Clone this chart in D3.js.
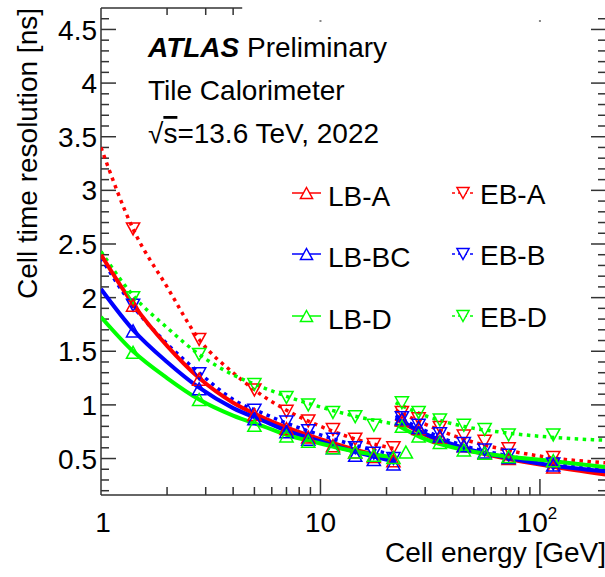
<!DOCTYPE html>
<html><head><meta charset="utf-8">
<script src="https://cdn.jsdelivr.net/npm/d3@7/dist/d3.min.js"></script>
<style>
html,body{margin:0;padding:0;background:#fff;}
svg{display:block;font-family:"Liberation Sans",Arial,Helvetica,sans-serif;}
</style></head>
<body><svg id="c" width="605" height="577"></svg>
<script>
// ---- data ----
const seriesNames = ["LB-A", "LB-BC", "LB-D", "EB-A", "EB-B", "EB-D"];
const seriesColors = ["#ff0000", "#0000ff", "#00ff00", "#ff0000", "#0000ff", "#00ff00"];
const seriesDotted = [false, false, false, true, true, true];
const seriesUp = [true, true, true, false, false, false];

// fit curves (low energy range, high energy range)
const fitE1 = [1, 1.4, 2, 2.8, 4, 5.5, 7, 10, 14, 22];
const fitE2 = [22, 30, 45, 70, 110, 200];
const fitLBA1  = [2.40, 1.94, 1.55, 1.25, 1.02, 0.88, 0.79, 0.68, 0.59, 0.49];
const fitLBBC1 = [2.08, 1.70, 1.40, 1.16, 0.97, 0.85, 0.76, 0.66, 0.57, 0.47];
const fitLBD1  = [1.82, 1.50, 1.25, 1.05, 0.90, 0.80, 0.72, 0.64, 0.57, 0.51];
const fitEBA1  = [3.40, 2.64, 2.10, 1.61, 1.30, 1.08, 0.95, 0.80, 0.69, 0.59];
const fitEBB1  = [2.37, 1.92, 1.57, 1.30, 1.05, 0.92, 0.83, 0.72, 0.63, 0.53];
const fitEBD1  = [2.43, 2.02, 1.72, 1.47, 1.28, 1.16, 1.08, 0.98, 0.90, 0.82];
const fitLBA2  = [0.87, 0.72, 0.59, 0.50, 0.43, 0.35];
const fitLBBC2 = [0.88, 0.73, 0.60, 0.51, 0.44, 0.38];
const fitLBD2  = [0.82, 0.68, 0.58, 0.52, 0.48, 0.42];
const fitEBA2  = [0.95, 0.82, 0.68, 0.58, 0.51, 0.46];
const fitEBB2  = [0.90, 0.76, 0.62, 0.53, 0.46, 0.41];
const fitEBD2  = [1.02, 0.90, 0.80, 0.74, 0.70, 0.67];

// measured points
const ptE1 = [1.4, 2.8, 5, 7, 8.8, 11.4, 14.4, 17.5, 21.5, 24.5];
const ptE2 = [23.5, 28, 35, 45, 56, 72, 115];
const ptLBA1  = [1.93, 1.24, 0.91, 0.78, 0.70, 0.62, 0.56, 0.52, 0.48, null];
const ptLBBC1 = [1.69, 1.15, 0.87, 0.75, 0.68, 0.60, 0.53, 0.49, 0.45, null];
const ptLBD1  = [1.49, 1.05, 0.81, 0.71, 0.66, 0.60, 0.56, 0.53, 0.51, 0.56];
const ptEBA1  = [2.64, 1.61, 1.14, 0.94, 0.85, 0.77, 0.68, 0.63, 0.60, null];
const ptEBB1  = [1.93, 1.29, 0.95, 0.84, 0.76, 0.68, 0.60, 0.55, 0.50, null];
const ptEBD1  = [2.00, 1.47, 1.19, 1.07, 1.00, 0.93, 0.89, 0.81, null, null];
const ptLBA2  = [0.86, 0.78, 0.70, 0.62, 0.55, 0.50, 0.42];
const ptLBBC2 = [0.87, 0.79, 0.71, 0.62, 0.56, 0.51, 0.44];
const ptLBD2  = [0.80, 0.71, 0.65, 0.58, 0.55, 0.52, 0.48];
const ptEBA2  = [0.93, 0.87, 0.79, 0.71, 0.66, 0.59, 0.51];
const ptEBB2  = [0.88, 0.81, 0.73, 0.64, 0.58, 0.53, 0.45];
const ptEBD2  = [1.02, 0.93, 0.86, 0.81, 0.77, 0.72, 0.72];

const yMajorTicks = [0.5, 1, 1.5, 2, 2.5, 3, 3.5, 4, 4.5];
const yTickLabels = ["0.5", "1", "1.5", "2", "2.5", "3", "3.5", "4", "4.5"];
const xMajorTicks = [1, 10, 100];

const fits1 = [fitLBA1, fitLBBC1, fitLBD1, fitEBA1, fitEBB1, fitEBD1];
const fits2 = [fitLBA2, fitLBBC2, fitLBD2, fitEBA2, fitEBB2, fitEBD2];
const pts1 = [ptLBA1, ptLBBC1, ptLBD1, ptEBA1, ptEBB1, ptEBD1];
const pts2 = [ptLBA2, ptLBBC2, ptLBD2, ptEBA2, ptEBB2, ptEBD2];

// ---- layout ----
const L = 101, R = 606, T = 8, B = 495;
const svg = d3.select("#c");
const x = d3.scaleLog().domain([1, 200]).range([L, R]);
const y = d3.scaleLinear().domain([0.16, 4.7]).range([B, T]);
const axisCol = "#333";
const FONT = 28;

svg.append("defs").append("clipPath").attr("id", "clip")
  .append("rect").attr("x", L).attr("y", T).attr("width", R - L).attr("height", B - T);

// frame
svg.append("line").attr("x1", L).attr("x2", L).attr("y1", T).attr("y2", B).attr("stroke", axisCol).attr("stroke-width", 1.5);
svg.append("line").attr("x1", L).attr("x2", R).attr("y1", B).attr("y2", B).attr("stroke", axisCol).attr("stroke-width", 1.5);
svg.append("line").attr("x1", L).attr("x2", x(4.4)).attr("y1", T).attr("y2", T).attr("stroke", axisCol).attr("stroke-width", 1.5);

// y ticks (left and right)
const yMinor = d3.range(2, 47).map(d => d / 10);
const gy = svg.append("g");
yMinor.forEach(v => {
  const major = Math.abs(v * 2 - Math.round(v * 2)) < 1e-6;
  const len = major ? 15 : 8;
  gy.append("line").attr("x1", L).attr("x2", L + len).attr("y1", y(v)).attr("y2", y(v)).attr("stroke", axisCol).attr("stroke-width", 1.5);
  gy.append("line").attr("x1", R - len).attr("x2", R).attr("y1", y(v)).attr("y2", y(v)).attr("stroke", axisCol).attr("stroke-width", 1.5);
});
yMajorTicks.forEach((v, i) => {
  gy.append("text").attr("x", 97).attr("y", y(v)).attr("dy", "0.36em")
    .attr("text-anchor", "end").attr("font-size", FONT).text(yTickLabels[i]);
});

// x ticks
const xMinor = [];
[1, 10, 100].forEach(dec => { for (let k = 1; k <= 9; k++) { const v = dec * k; if (v <= 200 && v > 1) xMinor.push(v); } });
const gx = svg.append("g");
xMinor.forEach(v => {
  const major = xMajorTicks.includes(v);
  const len = major ? 16 : 8;
  gx.append("line").attr("x1", x(v)).attr("x2", x(v)).attr("y1", B).attr("y2", B - len).attr("stroke", axisCol).attr("stroke-width", 1.5);
});
[2, 3, 4].forEach(v => {
  gx.append("line").attr("x1", x(v)).attr("x2", x(v)).attr("y1", T).attr("y2", T + 7).attr("stroke", axisCol).attr("stroke-width", 1.5);
});
[10, 100].forEach(v => {
  gx.append("rect").attr("x", x(v) - 1).attr("y", 20).attr("width", 2).attr("height", 2).attr("fill", "#888");
});
gx.append("text").attr("x", x(1) + 2).attr("y", 532).attr("text-anchor", "middle").attr("font-size", FONT).text("1");
gx.append("text").attr("x", x(10)).attr("y", 532).attr("text-anchor", "middle").attr("font-size", FONT).text("10");
const t100 = gx.append("text").attr("x", x(100) - 3).attr("y", 532).attr("text-anchor", "middle").attr("font-size", FONT);
t100.append("tspan").text("10");
t100.append("tspan").attr("font-size", 17).attr("dy", -13).text("2");

// axis titles
svg.append("text").attr("x", 606).attr("y", 562).attr("text-anchor", "end").attr("font-size", FONT).text("Cell energy [GeV]");
svg.append("text").attr("transform", "translate(37,8) rotate(-90)").attr("text-anchor", "end").attr("font-size", FONT).text("Cell time resolution [ns]");

// ---- data drawing ----
const plot = svg.append("g").attr("clip-path", "url(#clip)");
const line = d3.line().x(d => x(d[0])).y(d => y(d[1])).curve(d3.curveMonotoneX);

function styleLine(sel, i, legend) {
  sel.attr("fill", "none").attr("stroke", seriesColors[i])
    .attr("stroke-width", legend ? 1.5 : (seriesDotted[i] ? 3.5 : 4));
  if (seriesDotted[i]) sel.attr("stroke-dasharray", legend ? "3 3" : "3.5 4.5");
}
function triPath(up, s) {
  const w = s * 0.55, h = s * 0.5;
  return up ? `M0,${-h}L${w},${h}L${-w},${h}Z` : `M0,${h}L${w},${-h}L${-w},${-h}Z`;
}

const order = [3, 4, 5, 0, 1, 2];
order.forEach(i => {
  plot.append("path").datum(fitE1.map((e, k) => [e, fits1[i][k]])).attr("d", line).call(styleLine, i, false);
  plot.append("path").datum(fitE2.map((e, k) => [e, fits2[i][k]])).attr("d", line).call(styleLine, i, false);
});
order.forEach(i => {
  const pts = ptE1.map((e, k) => [e, pts1[i][k]]).concat(ptE2.map((e, k) => [e, pts2[i][k]])).filter(d => d[1] != null);
  plot.selectAll(null).data(pts).enter().append("path")
    .attr("transform", d => `translate(${x(d[0])},${y(d[1])})`)
    .attr("d", triPath(seriesUp[i], 12))
    .attr("fill", "none").attr("stroke", seriesColors[i]).attr("stroke-width", 1.5);
});

// ---- legend ----
const legRows = [193, 254, 316];
seriesNames.forEach((name, i) => {
  const col = i < 3 ? 0 : 1, row = i % 3;
  const yy = legRows[row];
  const x0 = col === 0 ? 292 : 452, x1 = col === 0 ? 321 : 474;
  const cx = (x0 + x1) / 2;
  const g = svg.append("g");
  g.append("line").attr("x1", x0).attr("x2", x1).attr("y1", yy).attr("y2", yy).call(styleLine, i, true);
  g.append("path").attr("transform", `translate(${cx},${yy})`).attr("d", triPath(seriesUp[i], 11))
    .attr("fill", "#fff").attr("stroke", seriesColors[i]).attr("stroke-width", 1.5);
  g.append("text").attr("x", col === 0 ? 328 : 480).attr("y", yy + (col === 0 ? 13 : 11))
    .attr("font-size", FONT).text(name);
});

// ---- labels ----
const atl = svg.append("text").attr("x", 148).attr("y", 57).attr("font-size", FONT);
atl.append("tspan").attr("font-weight", "bold").attr("font-style", "italic").text("ATLAS");
atl.append("tspan").text(" Preliminary");
svg.append("text").attr("x", 148).attr("y", 100).attr("font-size", FONT).text("Tile Calorimeter");
const rs = svg.append("text").attr("x", 148).attr("y", 143).attr("font-size", FONT);
rs.append("tspan").text("√");
rs.append("tspan").attr("text-decoration", "overline").text("s");
rs.append("tspan").text("=13.6 TeV, 2022");
</script></body></html>
